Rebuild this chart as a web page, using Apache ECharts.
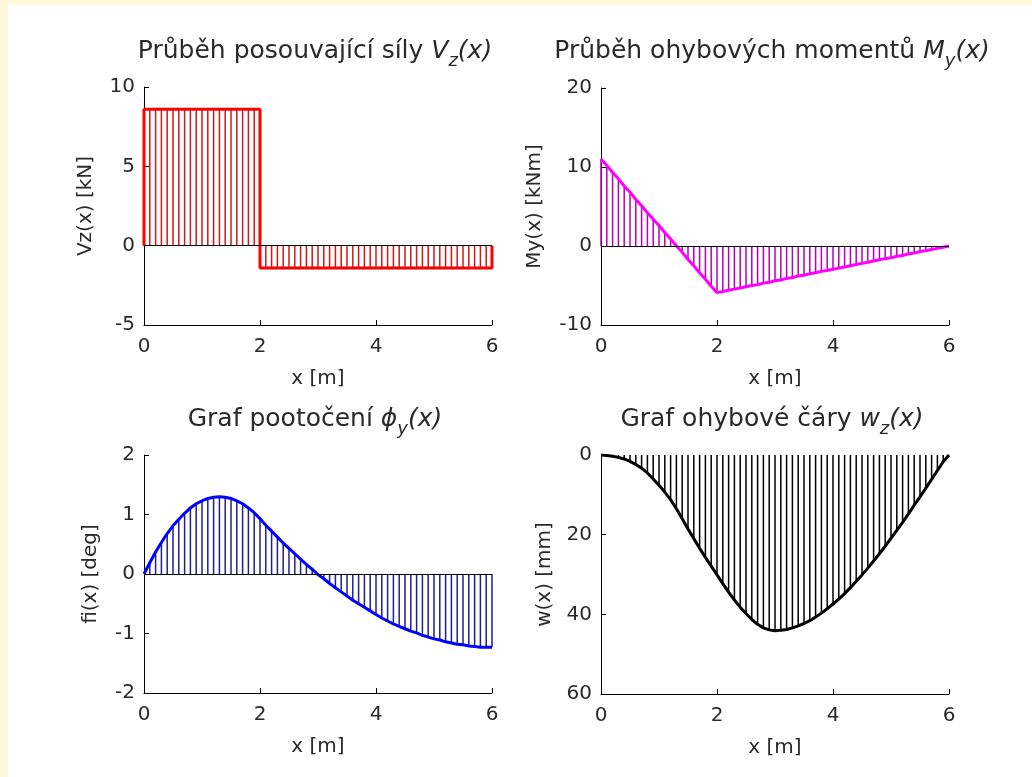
<!DOCTYPE html>
<html>
<head>
<meta charset="utf-8">
<script src="https://cdn.jsdelivr.net/npm/echarts@6/dist/echarts.min.js"></script>
<style>
  html, body { margin: 0; padding: 0; background: #fff7d9; }
  #main { position: absolute; left: 8px; top: 5px; width: 1024px; height: 772px; background: #fff; }
</style>
</head>
<body>
<div id="main"></div>
<script>
// x positions of the hatch lines [m]
const xs = [0, 0.1, 0.2, 0.3, 0.4, 0.5, 0.6, 0.7, 0.8, 0.9,
  1.0, 1.1, 1.2, 1.3, 1.4, 1.5, 1.6, 1.7, 1.8, 1.9,
  2.0, 2.1, 2.2, 2.3, 2.4, 2.5, 2.6, 2.7, 2.8, 2.9,
  3.0, 3.1, 3.2, 3.3, 3.4, 3.5, 3.6, 3.7, 3.8, 3.9,
  4.0, 4.1, 4.2, 4.3, 4.4, 4.5, 4.6, 4.7, 4.8, 4.9,
  5.0, 5.1, 5.2, 5.3, 5.4, 5.5, 5.6, 5.7, 5.8, 5.9, 6.0];

// shear force Vz [kN]
const vz = [8.6, 8.6, 8.6, 8.6, 8.6, 8.6, 8.6, 8.6, 8.6, 8.6,
  8.6, 8.6, 8.6, 8.6, 8.6, 8.6, 8.6, 8.6, 8.6, 8.6, 8.6,
  -1.4, -1.4, -1.4, -1.4, -1.4, -1.4, -1.4, -1.4, -1.4, -1.4,
  -1.4, -1.4, -1.4, -1.4, -1.4, -1.4, -1.4, -1.4, -1.4, -1.4,
  -1.4, -1.4, -1.4, -1.4, -1.4, -1.4, -1.4, -1.4, -1.4, -1.4,
  -1.4, -1.4, -1.4, -1.4, -1.4, -1.4, -1.4, -1.4, -1.4, -1.4];
// outline of the shear diagram
const vzEdgeX = [0, 0, 2, 2, 6, 6];
const vzEdge = [0, 8.6, 8.6, -1.4, -1.4, 0];

// bending moment My [kNm]
const my = [11.0, 10.2, 9.3, 8.5, 7.6, 6.8, 5.9, 5.1, 4.2, 3.4,
  2.6, 1.7, 0.9, 0.0, -0.8, -1.7, -2.5, -3.4, -4.2, -5.1, -5.9,
  -5.75, -5.6, -5.46, -5.31, -5.16, -5.0, -4.9, -4.7, -4.6, -4.4,
  -4.3, -4.1, -4.0, -3.8, -3.7, -3.5, -3.4, -3.2, -3.1, -2.95,
  -2.8, -2.65, -2.5, -2.35, -2.2, -2.05, -1.9, -1.75, -1.6, -1.5,
  -1.3, -1.2, -1.0, -0.9, -0.7, -0.6, -0.45, -0.3, -0.15, 0];

// rotation fi [deg]
const fi = [0, 0.19, 0.37, 0.53, 0.68, 0.81, 0.92, 1.02, 1.11, 1.18,
  1.23, 1.27, 1.29, 1.30, 1.29, 1.27, 1.23, 1.18, 1.11, 1.03, 0.93,
  0.82, 0.72, 0.62, 0.52, 0.43, 0.34, 0.25, 0.16, 0.08, -0.01,
  -0.08, -0.16, -0.23, -0.30, -0.37, -0.44, -0.50, -0.56, -0.62, -0.68,
  -0.74, -0.79, -0.84, -0.88, -0.92, -0.96, -0.99, -1.03, -1.06, -1.09,
  -1.11, -1.14, -1.16, -1.18, -1.19, -1.21, -1.22, -1.23, -1.23, -1.23];

// deflection w [mm]
const w = [0, 0.1, 0.3, 0.6, 1.0, 1.6, 2.4, 3.3, 4.5, 6.0,
  7.6, 9.3, 11.2, 13.5, 16.0, 18.6, 21.0, 23.4, 25.7, 27.9,
  30.1, 32.3, 34.4, 36.4, 38.2, 39.8, 41.3, 42.5, 43.4, 43.9,
  44.1, 44.0, 43.8, 43.4, 42.9, 42.3, 41.6, 40.7, 39.7, 38.6,
  37.4, 36.2, 34.8, 33.3, 31.7, 30.1, 28.4, 26.6, 24.8, 22.9,
  20.9, 18.9, 16.9, 14.8, 12.6, 10.5, 8.3, 6.1, 3.9, 1.7, 0];

const font = 'DejaVu Sans';
const ink = '#2a2a2a';

const grids = [
  { left: 136, top: 82, width: 348, height: 238 },
  { left: 593, top: 83, width: 348, height: 237 },
  { left: 136, top: 450, width: 348, height: 238 },
  { left: 593, top: 450, width: 348, height: 239 }
];

const panels = [
  { title: 'Průběh posouvající síly {i|V}{s|z}{i|(x)}', name: 'Vz(x) [kN]', min: -5, max: 10, interval: 5,
    vals: vz, lineX: vzEdgeX, lineY: vzEdge, color: '#ff0000', hatch: '#d01818', gap: 48, zero: true },
  { title: 'Průběh ohybových momentů {i|M}{s|y}{i|(x)}', name: 'My(x) [kNm]', min: -10, max: 20, interval: 10,
    vals: my, color: '#ff00ff', hatch: '#b800b8', gap: 56, zero: true },
  { title: 'Graf pootočení {i|ϕ}{s|y}{i|(x)}', name: 'fi(x) [deg]', min: -2, max: 2, interval: 1,
    vals: fi, color: '#0000ff', hatch: '#20208c', gap: 43, zero: true },
  { title: 'Graf ohybové čáry {i|w}{s|z}{i|(x)}', name: 'w(x) [mm]', min: 0, max: 60, interval: 20, inverse: true,
    vals: w, color: '#000000', hatch: '#000000', gap: 46, zero: false }
];

const titleRich = {
  i: { fontFamily: font, fontSize: 25, fontStyle: 'italic', color: ink },
  s: { fontFamily: font, fontSize: 18, fontStyle: 'italic', color: ink, padding: [20, 0, 0, 0] }
};

const axisText = { fontFamily: font, fontSize: 20, color: ink };

const option = {
  animation: false,
  backgroundColor: '#ffffff',
  grid: grids,
  title: panels.map((p, i) => ({
    text: p.title,
    left: grids[i].left + grids[i].width / 2 - 8,
    top: i < 2 ? 22 : 390,
    textAlign: 'center',
    textStyle: { fontFamily: font, fontSize: 25, fontWeight: 'normal', color: ink, rich: titleRich }
  })),
  xAxis: panels.map((p, i) => ({
    type: 'value', gridIndex: i, min: 0, max: 6, interval: 2,
    name: 'x [m]', nameLocation: 'middle', nameGap: 44, nameTextStyle: axisText,
    axisLine: { onZero: false, lineStyle: { color: '#000', width: 1 } },
    axisTick: { inside: true, length: 5, lineStyle: { color: '#000' } },
    axisLabel: Object.assign({ margin: 12 }, axisText),
    splitLine: { show: false }
  })),
  yAxis: panels.map((p, i) => ({
    type: 'value', gridIndex: i, min: p.min, max: p.max, interval: p.interval, inverse: !!p.inverse,
    name: p.name, nameLocation: 'middle', nameGap: p.gap, nameRotate: 90, nameTextStyle: axisText,
    axisLine: { onZero: false, lineStyle: { color: '#000', width: 1 } },
    axisTick: { inside: true, length: 5, lineStyle: { color: '#000' } },
    axisLabel: Object.assign({ margin: 9 }, axisText),
    splitLine: { show: false }
  })),
  series: []
};

panels.forEach((p, i) => {
  const hatch = {
    type: 'bar', xAxisIndex: i, yAxisIndex: i, silent: true,
    barWidth: 1.5,
    data: xs.map((x, k) => [x, p.vals[k]]),
    itemStyle: { color: p.hatch },
    z: 2
  };
  if (p.zero) {
    hatch.markLine = {
      silent: true, symbol: ['none', 'none'], label: { show: false },
      lineStyle: { color: '#000', type: 'solid', width: 1 },
      data: [{ yAxis: 0 }]
    };
  }
  const lx = p.lineX || xs;
  const ly = p.lineY || p.vals;
  const curve = {
    type: 'line', xAxisIndex: i, yAxisIndex: i, silent: true,
    showSymbol: false, symbol: 'none',
    data: lx.map((x, k) => [x, ly[k]]),
    lineStyle: { color: p.color, width: 3 },
    itemStyle: { color: p.color },
    z: 3
  };
  option.series.push(hatch, curve);
});

const chart = echarts.init(document.getElementById('main'));
chart.setOption(option);
</script>
</body>
</html>
